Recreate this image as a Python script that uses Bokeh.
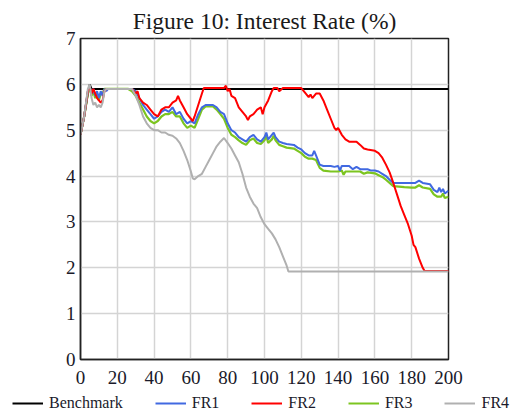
from bokeh.plotting import figure
from bokeh.models import Legend, LegendItem, Range1d, FixedTicker
from bokeh.layouts import column
from bokeh.embed import file_html
from bokeh.resources import INLINE

# ---- data ----
bench_x = [0, 2, 4, 5, 6, 200]
bench_y = [4.9, 5.3, 5.8, 6.0, 5.9, 5.9]

fr1_x = [0, 2, 4, 5, 6, 7, 8, 9, 10, 11, 12, 13, 14, 15, 20, 28, 30, 32, 34, 36, 38, 40, 42, 44, 46, 48, 50,
         52, 54, 56, 58, 60, 62, 64, 66, 68, 72, 74, 76, 78, 80, 82, 84, 86, 88, 90, 92, 94, 96, 98, 100,
         101, 102, 104, 105, 106, 108, 110, 112, 116, 118, 120, 122, 124, 126, 127, 128, 130, 132, 136, 138,
         140, 141, 142, 146, 148, 150, 152, 156, 158, 160, 162, 164, 166, 168, 170, 176, 182, 184, 186, 190,
         192, 194, 195, 196, 197, 198, 200]
fr1_y = [4.9, 5.3, 5.85, 5.95, 5.8, 5.9, 5.75, 5.85, 5.7, 5.85, 5.75, 5.9, 5.85, 5.9, 5.9, 5.9, 5.85, 5.7, 5.55,
         5.45, 5.35, 5.25, 5.3, 5.4, 5.45, 5.4, 5.5, 5.35, 5.4, 5.25, 5.15, 5.2, 5.15, 5.35, 5.5, 5.55, 5.55,
         5.5, 5.4, 5.35, 5.15, 5.0, 4.95, 4.85, 4.8, 4.75, 4.85, 4.9, 4.8, 4.75, 4.85, 4.95, 4.8, 4.9, 4.95,
         4.85, 4.75, 4.72, 4.7, 4.68, 4.62, 4.58, 4.5, 4.45, 4.45, 4.55, 4.45, 4.25, 4.22, 4.22, 4.2, 4.22,
         4.12, 4.22, 4.22, 4.15, 4.2, 4.15, 4.15, 4.12, 4.12, 4.1, 4.05, 4.0, 3.92, 3.85, 3.85, 3.85, 3.9,
         3.85, 3.82, 3.7, 3.65, 3.75, 3.65, 3.72, 3.62, 3.68]

fr2_x = [0, 2, 4, 5, 6, 7, 8, 9, 10, 11, 12, 13, 14, 20, 28, 30, 31, 32, 34, 36, 38, 40, 42, 44, 46, 48, 50,
         52, 53, 54, 56, 58, 60, 61, 62, 64, 66, 67, 78, 79, 80, 81, 82, 84, 86, 88, 90, 91, 92, 94, 96, 98,
         99, 100, 102, 104, 105, 107, 108, 110, 120, 122, 124, 125, 126, 128, 130, 132, 134, 136, 138, 139,
         140, 142, 144, 146, 150, 152, 154, 156, 160, 162, 164, 166, 168, 170, 172, 174, 176, 178, 180, 181,
         182, 184, 186, 187, 200]
fr2_y = [4.9, 5.3, 5.85, 5.95, 5.8, 5.9, 5.8, 5.7, 5.65, 5.6, 5.65, 5.85, 5.9, 5.9, 5.9, 5.8, 5.85, 5.7, 5.6,
         5.55, 5.45, 5.35, 5.3, 5.45, 5.5, 5.5, 5.6, 5.65, 5.75, 5.65, 5.5, 5.35, 5.25, 5.2, 5.3, 5.55, 5.8,
         5.92, 5.92, 5.97, 5.85, 5.9, 5.75, 5.7, 5.5, 5.4, 5.3, 5.22, 5.3, 5.35, 5.45, 5.5, 5.35, 5.5, 5.65,
         5.85, 5.92, 5.92, 5.85, 5.92, 5.92, 5.82, 5.72, 5.78, 5.7, 5.8, 5.8, 5.65, 5.45, 5.25, 5.05, 5.0,
         5.05, 4.9, 4.8, 4.75, 4.75, 4.68, 4.6, 4.58, 4.55, 4.5, 4.4, 4.25, 4.08, 3.85, 3.6, 3.35, 3.15, 2.95,
         2.7, 2.5, 2.45, 2.2, 2.0, 1.93, 1.93]

fr3_x = [0, 2, 4, 5, 6, 7, 8, 9, 10, 11, 12, 13, 15, 20, 26, 28, 30, 32, 34, 36, 38, 40, 42, 44, 46, 48, 50,
         52, 54, 56, 58, 60, 62, 64, 66, 68, 72, 74, 76, 78, 80, 82, 84, 86, 88, 90, 92, 94, 96, 98, 100, 101,
         102, 104, 105, 106, 108, 110, 112, 116, 118, 120, 122, 124, 126, 128, 130, 132, 136, 140, 142, 143,
         144, 148, 152, 154, 156, 160, 162, 164, 166, 168, 170, 176, 180, 182, 184, 186, 190, 192, 194, 196,
         197, 198, 200]
fr3_y = [4.9, 5.3, 5.8, 5.95, 5.75, 5.85, 5.7, 5.8, 5.65, 5.8, 5.8, 5.9, 5.9, 5.9, 5.9, 5.85, 5.75, 5.6, 5.45,
         5.3, 5.2, 5.15, 5.2, 5.3, 5.35, 5.35, 5.4, 5.3, 5.3, 5.15, 5.05, 5.1, 5.05, 5.25, 5.45, 5.52, 5.52,
         5.45, 5.35, 5.25, 5.05, 4.9, 4.85, 4.78, 4.72, 4.68, 4.78, 4.82, 4.72, 4.7, 4.78, 4.88, 4.72, 4.8,
         4.88, 4.78, 4.68, 4.65, 4.62, 4.6, 4.55, 4.5, 4.42, 4.38, 4.38, 4.35, 4.18, 4.12, 4.1, 4.1, 4.12,
         4.03, 4.1, 4.1, 4.1, 4.05, 4.08, 4.06, 4.02, 3.98, 3.92, 3.85, 3.78, 3.76, 3.75, 3.75, 3.8, 3.75,
         3.72, 3.6, 3.55, 3.55, 3.62, 3.52, 3.55]

fr4_x = [0, 2, 4, 5, 6, 7, 8, 9, 10, 11, 12, 13, 14, 20, 28, 30, 32, 34, 36, 38, 40, 42, 44, 46, 48, 50, 52,
         54, 56, 58, 60, 61, 62, 64, 66, 68, 70, 72, 74, 76, 78, 80, 82, 84, 86, 88, 90, 92, 94, 96, 98, 100,
         102, 104, 106, 108, 110, 112, 113, 200]
fr4_y = [4.9, 5.3, 5.9, 6.0, 5.7, 5.55, 5.6, 5.5, 5.55, 5.5, 5.6, 5.85, 5.9, 5.9, 5.9, 5.75, 5.55, 5.3, 5.15,
         5.05, 5.0, 5.0, 4.95, 4.95, 4.9, 4.88, 4.82, 4.72, 4.55, 4.35, 4.1, 3.95, 3.93, 4.0, 4.05, 4.2, 4.35,
         4.5, 4.65, 4.75, 4.83, 4.72, 4.6, 4.45, 4.3, 4.05, 3.75, 3.55, 3.4, 3.3, 3.1, 2.95, 2.85, 2.75, 2.62,
         2.45, 2.25, 2.05, 1.92, 1.92]

x_ticks = [0, 20, 40, 60, 80, 100, 120, 140, 160, 180, 200]
y_ticks = [0, 1, 2, 3, 4, 5, 6, 7]

series_names = ["Benchmark", "FR1", "FR2", "FR3", "FR4"]
series_colors = ["black", "#4169e1", "#ff0000", "#7cc520", "#b0b0b0"]

SERIF = "Liberation Serif"

p = figure(frame_width=368, frame_height=321, output_backend="svg", toolbar_location=None,
           x_range=Range1d(0, 200), y_range=Range1d(0, 7),
           min_border_left=80, min_border_right=51, min_border_top=0, min_border_bottom=0)

p.title.text = "Figure 10: Interest Rate (%)"
p.title.text_font = SERIF
p.title.text_font_size = "23.5px"
p.title.text_font_style = "normal"
p.title.align = "center"
p.title.text_color = "#1a1a1a"

p.outline_line_color = "#222222"
p.outline_line_width = 1.5

for ax in (p.xaxis[0], p.yaxis[0]):
    ax.major_label_text_font = SERIF
    ax.major_label_text_font_size = "19px"
    ax.major_label_text_color = "#1a1a2a"
    ax.major_tick_out = 0
    ax.major_tick_in = 0
    ax.minor_tick_out = 0
    ax.minor_tick_in = 0
    ax.axis_line_color = "#222222"
    ax.axis_line_width = 1.5
p.xaxis.ticker = FixedTicker(ticks=x_ticks)
p.yaxis.ticker = FixedTicker(ticks=y_ticks)
p.xaxis.major_label_standoff = 11
p.yaxis.major_label_standoff = 5

p.xgrid.ticker = FixedTicker(ticks=x_ticks)
p.ygrid.ticker = FixedTicker(ticks=y_ticks)
p.grid.grid_line_color = "#d4d4d4"
p.grid.grid_line_width = 1.5

p.line(bench_x, bench_y, line_color=series_colors[0], line_width=2)
p.line(fr3_x, fr3_y, line_color=series_colors[3], line_width=2.2)
p.line(fr1_x, fr1_y, line_color=series_colors[1], line_width=2)
p.line(fr2_x, fr2_y, line_color=series_colors[2], line_width=2)
p.line(fr4_x, fr4_y, line_color=series_colors[4], line_width=2)

# ---- legend strip (separate small figure below the chart) ----
lf = figure(width=515, height=28, output_backend="svg", toolbar_location=None,
            x_range=Range1d(0, 1), y_range=Range1d(0, 1),
            min_border_left=0, min_border_right=0, min_border_top=0, min_border_bottom=0)
lf.frame_align = False
lf.axis.visible = False
lf.grid.visible = False
lf.outline_line_color = None
items = []
nan = float("nan")
for name, col in zip(series_names, series_colors):
    r = lf.line([nan], [nan], line_color=col, line_width=2)
    items.append(LegendItem(label=name, renderers=[r]))
legend = Legend(items=items, orientation="horizontal", location=(12, 2))
legend.label_text_font = SERIF
legend.label_text_font_size = "16px"
legend.label_text_color = "#1a1a2a"
legend.glyph_width = 31
legend.glyph_height = 16
legend.label_height = 16
legend.label_standoff = 6
legend.spacing = 32
legend.padding = 0
legend.margin = 0
legend.border_line_color = None
legend.background_fill_alpha = 0
lf.add_layout(legend, "center")

layout = column(p, lf, spacing=0)
open("out.html", "w").write(file_html(layout, INLINE))
